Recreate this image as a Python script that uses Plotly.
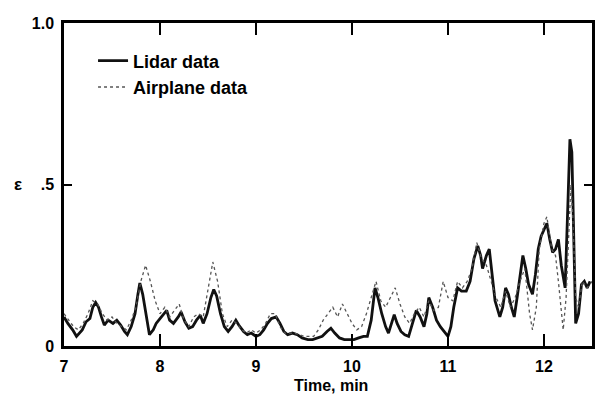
import plotly.graph_objects as go

lidar_t = [7.00, 7.04, 7.09, 7.13, 7.19, 7.23, 7.27, 7.30, 7.33, 7.36, 7.39, 7.42, 7.46, 7.51, 7.55,
           7.59, 7.63, 7.66, 7.70, 7.74, 7.77, 7.79, 7.82, 7.86, 7.89, 7.93, 7.96, 8.00, 8.04, 8.07,
           8.10, 8.14, 8.19, 8.22, 8.26, 8.30, 8.34, 8.38, 8.42, 8.45, 8.49, 8.53, 8.56, 8.59, 8.63,
           8.67, 8.71, 8.75, 8.79, 8.82, 8.87, 8.91, 8.95, 9.00, 9.04, 9.08, 9.12, 9.16, 9.21, 9.25,
           9.29, 9.33, 9.38, 9.43, 9.48, 9.54, 9.59, 9.64, 9.69, 9.74, 9.78, 9.82, 9.87, 9.92, 9.97,
           10.02, 10.07, 10.12, 10.16, 10.20, 10.24, 10.27, 10.31, 10.35, 10.38, 10.41, 10.44, 10.47,
           10.51, 10.55, 10.59, 10.63, 10.67, 10.71, 10.75, 10.78, 10.80, 10.84, 10.88, 10.92, 10.96,
           11.00, 11.03, 11.06, 11.10, 11.14, 11.19, 11.23, 11.27, 11.31, 11.34, 11.36, 11.40, 11.43,
           11.46, 11.49, 11.54, 11.57, 11.60, 11.63, 11.66, 11.69, 11.72, 11.75, 11.78, 11.81, 11.84,
           11.88, 11.91, 11.94, 11.97, 12.00, 12.03, 12.06, 12.09, 12.12, 12.15, 12.18, 12.22, 12.25,
           12.27, 12.29, 12.31, 12.33, 12.36, 12.39, 12.42, 12.45, 12.48]
lidar_v = [0.09, 0.07, 0.05, 0.03, 0.05, 0.075, 0.085, 0.12, 0.135, 0.12, 0.09, 0.065, 0.08, 0.07, 0.08,
           0.065, 0.045, 0.035, 0.06, 0.10, 0.16, 0.195, 0.16, 0.08, 0.035, 0.05, 0.07, 0.085, 0.10, 0.11,
           0.08, 0.07, 0.09, 0.105, 0.075, 0.055, 0.06, 0.08, 0.095, 0.07, 0.10, 0.15, 0.175, 0.155, 0.10,
           0.06, 0.045, 0.06, 0.08, 0.065, 0.045, 0.035, 0.04, 0.03, 0.035, 0.05, 0.07, 0.085, 0.09, 0.07,
           0.045, 0.035, 0.04, 0.035, 0.025, 0.02, 0.02, 0.025, 0.03, 0.045, 0.055, 0.04, 0.025, 0.02, 0.02,
           0.02, 0.025, 0.03, 0.03, 0.08, 0.18, 0.15, 0.10, 0.06, 0.04, 0.07, 0.097, 0.07,
           0.045, 0.035, 0.03, 0.07, 0.11, 0.09, 0.06, 0.10, 0.15, 0.12, 0.08, 0.06, 0.045,
           0.03, 0.06, 0.12, 0.18, 0.17, 0.17, 0.20, 0.27, 0.31, 0.28, 0.24, 0.28, 0.30,
           0.22, 0.14, 0.09, 0.12, 0.18, 0.16, 0.12, 0.09, 0.15, 0.22, 0.28, 0.24, 0.19,
           0.16, 0.22, 0.30, 0.34, 0.36, 0.38, 0.33, 0.29, 0.30, 0.33, 0.25, 0.18, 0.45,
           0.64, 0.60, 0.30, 0.07, 0.10, 0.19, 0.20, 0.18, 0.20]

plane_t = [7.00, 7.05, 7.10, 7.15, 7.20, 7.25, 7.30, 7.35, 7.40, 7.45, 7.50, 7.55, 7.60, 7.65, 7.70,
           7.75, 7.80, 7.85, 7.90, 7.95, 8.00, 8.05, 8.10, 8.15, 8.20, 8.25, 8.30, 8.35, 8.40, 8.45,
           8.50, 8.55, 8.60, 8.65, 8.70, 8.75, 8.80, 8.85, 8.90, 8.95, 9.00, 9.05, 9.10, 9.15, 9.20,
           9.25, 9.30, 9.40, 9.50, 9.60, 9.65, 9.70, 9.75, 9.80, 9.85, 9.90, 9.95, 10.00, 10.05, 10.10,
           10.15, 10.20, 10.25, 10.30, 10.35, 10.40, 10.45, 10.50, 10.55, 10.60, 10.65, 10.70, 10.75,
           10.80, 10.85, 10.90, 10.95, 11.00, 11.05, 11.10, 11.15, 11.20, 11.25, 11.30, 11.35, 11.40,
           11.45, 11.50, 11.55, 11.60, 11.65, 11.70, 11.75, 11.80, 11.85, 11.88, 11.92, 11.95, 12.00,
           12.03, 12.08, 12.12, 12.15, 12.18, 12.20, 12.23, 12.26, 12.28, 12.30, 12.33, 12.36, 12.40,
           12.45, 12.50]
plane_v = [0.10, 0.08, 0.06, 0.05, 0.07, 0.10, 0.14, 0.13, 0.10, 0.08, 0.09, 0.07, 0.06, 0.05, 0.08,
           0.12, 0.20, 0.25, 0.20, 0.14, 0.10, 0.12, 0.09, 0.11, 0.13, 0.08, 0.06, 0.09, 0.10, 0.09,
           0.17, 0.26, 0.20, 0.10, 0.06, 0.08, 0.07, 0.05, 0.04, 0.05, 0.04, 0.05, 0.07, 0.10, 0.10,
           0.06, 0.04, 0.04, 0.03, 0.03, 0.05, 0.08, 0.10, 0.12, 0.09, 0.13, 0.10, 0.07, 0.05, 0.06,
           0.10, 0.15, 0.20, 0.14, 0.12, 0.15, 0.18, 0.13, 0.09, 0.07, 0.10, 0.12, 0.09,
           0.14, 0.11, 0.12, 0.20, 0.15, 0.14, 0.20, 0.18, 0.20, 0.24, 0.32, 0.27, 0.25,
           0.20, 0.15, 0.12, 0.17, 0.12, 0.15, 0.20, 0.24, 0.10, 0.05, 0.12, 0.30, 0.38,
           0.40, 0.30, 0.28, 0.20, 0.12, 0.05, 0.15, 0.35, 0.50, 0.40, 0.15, 0.12, 0.20,
           0.18, 0.20]

x_ticks = [7, 8, 9, 10, 11, 12]
y_ticks = [0, 0.5, 1.0]
y_tick_text = ["0", ".5", "1.0"]

font = "Liberation Sans, Arial, sans-serif"
tick_font = dict(family=font, size=16, color="black", weight="bold")

fig = go.Figure()
fig.add_trace(go.Scatter(x=lidar_t, y=lidar_v, mode="lines", name="Lidar data",
                         line=dict(color="#111111", width=2.8)))
fig.add_trace(go.Scatter(x=plane_t, y=plane_v, mode="lines", name="Airplane data",
                         line=dict(color="#555555", width=1.3, dash="3px,3px")))

axis_common = dict(showline=True, linecolor="black", linewidth=2.5, mirror="allticks",
                   ticks="inside", tickcolor="black", tickwidth=2, showgrid=False,
                   zeroline=False, tickfont=tick_font)

fig.update_layout(
    width=595, height=396,
    margin=dict(l=64, r=0, t=23, b=50),
    paper_bgcolor="white", plot_bgcolor="white",
    showlegend=True,
    legend=dict(x=0.055, y=0.94, xanchor="left", yanchor="top",
                bgcolor="rgba(0,0,0,0)",
                font=dict(family=font, size=18, color="black", weight="bold"),
                tracegroupgap=0, itemwidth=30),
    xaxis=dict(range=[7, 12.5], tickvals=x_ticks, ticklen=12, ticklabelstandoff=4,
               **axis_common),
    yaxis=dict(range=[0, 1.0], tickvals=y_ticks, ticktext=y_tick_text, ticklen=8,
               ticklabelstandoff=4, **axis_common),
    annotations=[
        dict(text="Time, min", x=0.505, y=-0.121, xref="paper", yref="paper",
             showarrow=False, font=dict(family=font, size=16, color="black", weight="bold"),
             xanchor="center", yanchor="middle"),
        dict(text="ε", x=-0.087, y=0.5, xref="paper", yref="paper",
             showarrow=False, font=dict(family=font, size=17, color="black", weight="bold"),
             xanchor="center", yanchor="middle"),
    ],
)

fig.write_html("out.html")
